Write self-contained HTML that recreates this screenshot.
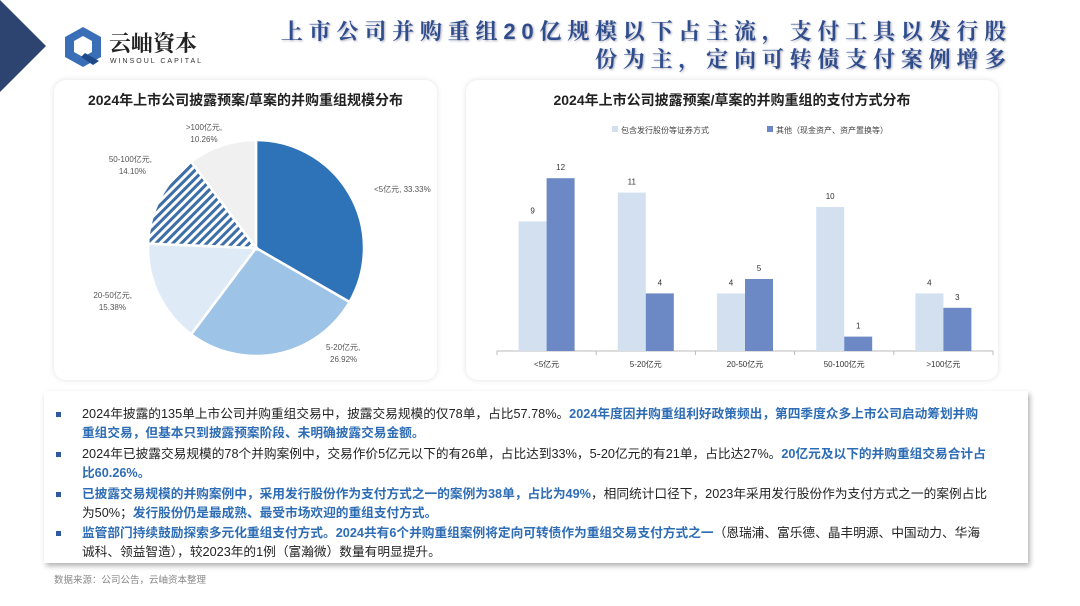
<!DOCTYPE html>
<html><head><meta charset="utf-8">
<style>
*{margin:0;padding:0;box-sizing:border-box}
body{width:1080px;height:606px;background:#fff;position:relative;overflow:hidden;font-family:"Liberation Sans","Noto Sans CJK SC",sans-serif}
.abs{position:absolute}
.title{right:68px;top:18px;text-align:right;font-size:22px;font-weight:bold;color:#2f4d8c;letter-spacing:5.8px;line-height:28px;text-shadow:1px 1px 2px #aab;font-family:"Liberation Sans","Noto Serif CJK SC",serif}
.card{background:#fff;border-radius:12px;box-shadow:0 0 6px rgba(0,0,0,0.12)}
.ctitle{font-size:14px;font-weight:bold;color:#222;text-align:center;width:100%}
.tbox{left:44px;top:391px;width:984px;height:172px;background:#fff;box-shadow:2px 3px 5px rgba(0,0,0,0.3)}
.li{position:absolute;left:38px;width:906px;font-size:12.7px;line-height:19px;color:#222}
.li::before{content:"";position:absolute;left:-26px;top:7px;width:5px;height:5px;background:#2f5aa0}
.b{color:#2e6db5;font-weight:bold}
</style></head><body>
<svg class="abs" style="left:0;top:0" width="50" height="95"><polygon points="0,0 46,46 0,92" fill="#2d4470"/></svg>
<div class="abs" style="left:63px;top:27px">
<svg width="40" height="40" viewBox="0 0 40 40"><polygon points="20,0 38,10 38,30 20,40 2,30 2,10" fill="#3a6fb8"/><polygon points="20,9 29,14 29,25 20,30 11,25 11,14" fill="#fff"/><polygon points="22,26 36,34 30,38 18,30" fill="#1f4a8a"/></svg>
<div class="abs" style="left:46px;top:0;font-size:22px;font-weight:bold;color:#222;white-space:nowrap;font-family:'Noto Serif CJK SC',serif">云岫資本</div>
<div class="abs" style="left:47px;top:31px;font-size:7px;letter-spacing:2px;color:#333;white-space:nowrap">WINSOUL CAPITAL</div>
</div>
<div class="abs title">上市公司并购重组20亿规模以下占主流，支付工具以发行股<br>份为主，定向可转债支付案例增多</div>

<div class="abs card" style="left:54px;top:80px;width:383px;height:300px">
<div class="abs ctitle" style="top:10px">2024年上市公司披露预案/草案的并购重组规模分布</div>
</div>
<svg class="abs" style="left:54px;top:80px" width="383" height="300" id="pie">
<defs><pattern id="stripe" width="6" height="6" patternUnits="userSpaceOnUse" patternTransform="rotate(45)"><rect width="6" height="6" fill="#fff"/><rect width="3" height="6" fill="#3d6ea8"/></pattern></defs>
</svg>

<div class="abs card" style="left:466px;top:80px;width:532px;height:300px">
<div class="abs ctitle" style="top:10px">2024年上市公司披露预案/草案的并购重组的支付方式分布</div>
</div>
<svg class="abs" style="left:466px;top:80px" width="532" height="300" id="bar"></svg>

<div class="abs tbox">
<div class="li" style="top:14px">2024年披露的135单上市公司并购重组交易中，披露交易规模的仅78单，占比57.78%。<span class="b">2024年度因并购重组利好政策频出，第四季度众多上市公司启动筹划并购重组交易，但基本只到披露预案阶段、未明确披露交易金额。</span></div>
<div class="li" style="top:54px">2024年已披露交易规模的78个并购案例中，交易作价5亿元以下的有26单，占比达到33%，5-20亿元的有21单，占比达27%。<span class="b">20亿元及以下的并购重组交易合计占比60.26%。</span></div>
<div class="li" style="top:94px"><span class="b">已披露交易规模的并购案例中，采用发行股份作为支付方式之一的案例为38单，占比为49%</span>，相同统计口径下，2023年采用发行股份作为支付方式之一的案例占比为50%；<span class="b">发行股份仍是最成熟、最受市场欢迎的重组支付方式。</span></div>
<div class="li" style="top:133px"><span class="b">监管部门持续鼓励探索多元化重组支付方式。2024共有6个并购重组案例将定向可转债作为重组交易支付方式之一</span>（恩瑞浦、富乐德、晶丰明源、中国动力、华海诚科、领益智造），较2023年的1例（富瀚微）数量有明显提升。</div>
</div>
<div class="abs" style="left:54px;top:572px;font-size:9.5px;color:#888">数据来源：公司公告，云岫资本整理</div>

<script>
const pieLabels=["<5亿元","5-20亿元","20-50亿元","50-100亿元",">100亿元"];
const pieValues=[33.33,26.92,15.38,14.10,10.26];
const barCats=["<5亿元","5-20亿元","20-50亿元","50-100亿元",">100亿元"];
const seriesA=[9,11,4,10,4];
const seriesB=[12,4,5,1,3];
const NS="http://www.w3.org/2000/svg";
function mk(p,t,a){const e=document.createElementNS(NS,t);for(const k in a)e.setAttribute(k,a[k]);p.appendChild(e);return e;}
(function(){
const svg=document.getElementById('pie');
const cx=202,cy=168,r=108;
const fills=["#2e72b8","#9dc3e6","#deebf7","url(#stripe)","#f0f0f0"];
const lbl=[[320,112,"start"],[272,270,"start"],[78,218,"end"],[98,82,"end"],[150,50,"middle"]];
const tot=pieValues.reduce((a,b)=>a+b,0);let a0=-Math.PI/2;
pieValues.forEach((v,i)=>{
 const a1=a0+v/tot*2*Math.PI;
 const x0=cx+r*Math.cos(a0),y0=cy+r*Math.sin(a0),x1=cx+r*Math.cos(a1),y1=cy+r*Math.sin(a1);
 const p=mk(svg,'path',{d:`M${cx},${cy}L${x0},${y0}A${r},${r} 0 ${a1-a0>Math.PI?1:0} 1 ${x1},${y1}Z`,fill:fills[i],stroke:'#fff','stroke-width':2.5});
 
 
 const L=lbl[i];
 const t=mk(svg,'text',{x:L[0],y:L[1],'font-size':8,fill:'#555','text-anchor':L[2]});
 
 
 if(i===0){t.textContent=pieLabels[i]+", "+v.toFixed(2)+"%";}
 else{const s1=mk(t,'tspan',{x:L[0]});s1.textContent=pieLabels[i]+",";const s2=mk(t,'tspan',{x:L[0]+(L[2]==="start"?4:L[2]==="end"?-6:0),dy:12});s2.textContent=v.toFixed(2)+"%";}
 a0=a1;
});
})();
(function(){
const svg=document.getElementById('bar');
const x0=31,x1=527,base=271,pu=14.4,bw=28;
const cw=(x1-x0)/barCats.length;
const y=v=>base-v*pu;
mk(svg,'line',{x1:x0,y1:base,x2:x1,y2:base,stroke:'#bbb','stroke-width':1});
for(let i=0;i<=barCats.length;i++){const tk=mk(svg,'line',{x1:x0+i*cw,y1:base,x2:x0+i*cw,y2:base+4,stroke:'#bbb'});}
barCats.forEach((c,i)=>{
 const cx=x0+cw*(i+0.5);
 [[seriesA[i],"#d3e0ef",cx-bw],[seriesB[i],"#6d89c5",cx]].forEach(([v,col,bx],j)=>{
  const r=mk(svg,'rect',{x:bx,y:y(v),width:bw,height:v*pu,fill:col});
  
  
  const t=mk(svg,'text',{x:bx+bw/2,y:y(v)-8,'font-size':8,fill:'#333','text-anchor':'middle'});
  
  
  t.textContent=v;
 });
 const t=mk(svg,'text',{x:cx,y:base+16,'font-size':8,fill:'#333','text-anchor':'middle'});
 
 
 t.textContent=c;
});
const lg=[["#d3e0ef","包含发行股份等证券方式",146],["#6d89c5","其他（现金资产、资产置换等）",301]];
lg.forEach(([c,s,lx])=>{
 const r=mk(svg,'rect',{x:lx,y:46,width:6,height:6,fill:c});
 
 
 const t=mk(svg,'text',{x:lx+9,y:53,'font-size':8,fill:'#444'});
 
 
 t.textContent=s;
});
})();
</script>
</body></html>
